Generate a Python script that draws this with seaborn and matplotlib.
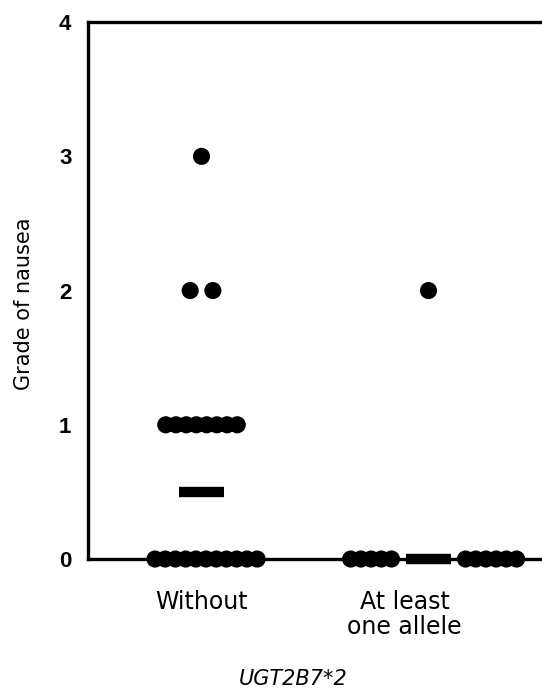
import numpy as np
import pandas as pd
import matplotlib
matplotlib.use("Agg")
import matplotlib.pyplot as plt
import matplotlib.transforms as mtransforms
import seaborn as sns

# ---- data ----
groups = ["Without", "At least\none allele"]
grades = [0, 1, 2, 3]
without_counts = [11, 8, 2, 1]
allele_counts = [11, 0, 1, 0]
y_ticks = [0, 1, 2, 3, 4]
x_title = "UGT2B7*2"
y_title = "Grade of nausea"

sns.set_theme(style="white")
plt.rcParams["font.family"] = ["DejaVu Sans"]
plt.rcParams["text.color"] = "black"
plt.rcParams["axes.labelcolor"] = "black"
plt.rcParams["xtick.color"] = "black"
plt.rcParams["ytick.color"] = "black"

fig = plt.figure(figsize=(5.42, 6.91), dpi=100)
ax = fig.add_axes([0.1624, 0.191, 0.8376, 0.777])

rows = []
medians = []
for gi, counts in enumerate([without_counts, allele_counts]):
    vals = np.repeat(grades, counts)
    med = float(np.median(vals))
    medians.append(med)
    for g, n in zip(grades, counts):
        if n == 0:
            continue
        spacing = 0.10 if n <= 2 else 0.045
        if g == med:
            # split dots on both sides of the median bar
            nl = n // 2
            nr = n - nl
            first = 0.163
            offs = list(-first - spacing * np.arange(nl)[::-1]) + list(first + spacing * np.arange(nr))
        else:
            offs = list((np.arange(n) - (n - 1) / 2) * spacing)
        shift = 0.02 if (gi == 0 and g == 0) else 0.0
        for o in offs:
            rows.append({"x": gi + o + shift, "grade": g})
df = pd.DataFrame(rows)

sns.scatterplot(data=df, x="x", y="grade", ax=ax, color="black", s=152,
                edgecolor="none", linewidth=0, zorder=5, legend=False)
for c in ax.collections:
    c.set_clip_on(False)

# median bars
for gi, med in enumerate(medians):
    ax.hlines(med, gi - 0.1, gi + 0.1, color="black", linewidth=7.5,
              capstyle="butt", zorder=4, clip_on=False)

ax.set_xlim(-0.5, 1.5)
ax.set_ylim(0, 4)
ax.set_yticks(y_ticks)
ax.set_yticklabels([str(t) for t in y_ticks], fontsize=16, fontweight="bold",
                   family=["Liberation Sans", "DejaVu Sans"])
ax.set_xticks([0, 1])
ax.set_xticklabels(groups, fontsize=17, linespacing=1.05)
ax.tick_params(axis="y", length=0, pad=12)
ax.tick_params(axis="x", length=0, pad=22)
lbl = ax.get_xticklabels()[1]
lbl.set_transform(lbl.get_transform() +
                  mtransforms.ScaledTranslation(-0.24, 0, fig.dpi_scale_trans))

ax.set_ylabel(y_title, fontsize=15)
ax.yaxis.set_label_coords(-0.12, 0.475)
ax.set_xlabel(x_title, fontsize=15, style="italic")
ax.xaxis.set_label_coords(0.452, -0.205)

for side in ["left", "bottom", "top"]:
    ax.spines[side].set_visible(True)
    ax.spines[side].set_color("black")
    ax.spines[side].set_linewidth(2.4)
ax.spines["right"].set_visible(False)
ax.grid(False)

fig.savefig("out.png", dpi=100)
